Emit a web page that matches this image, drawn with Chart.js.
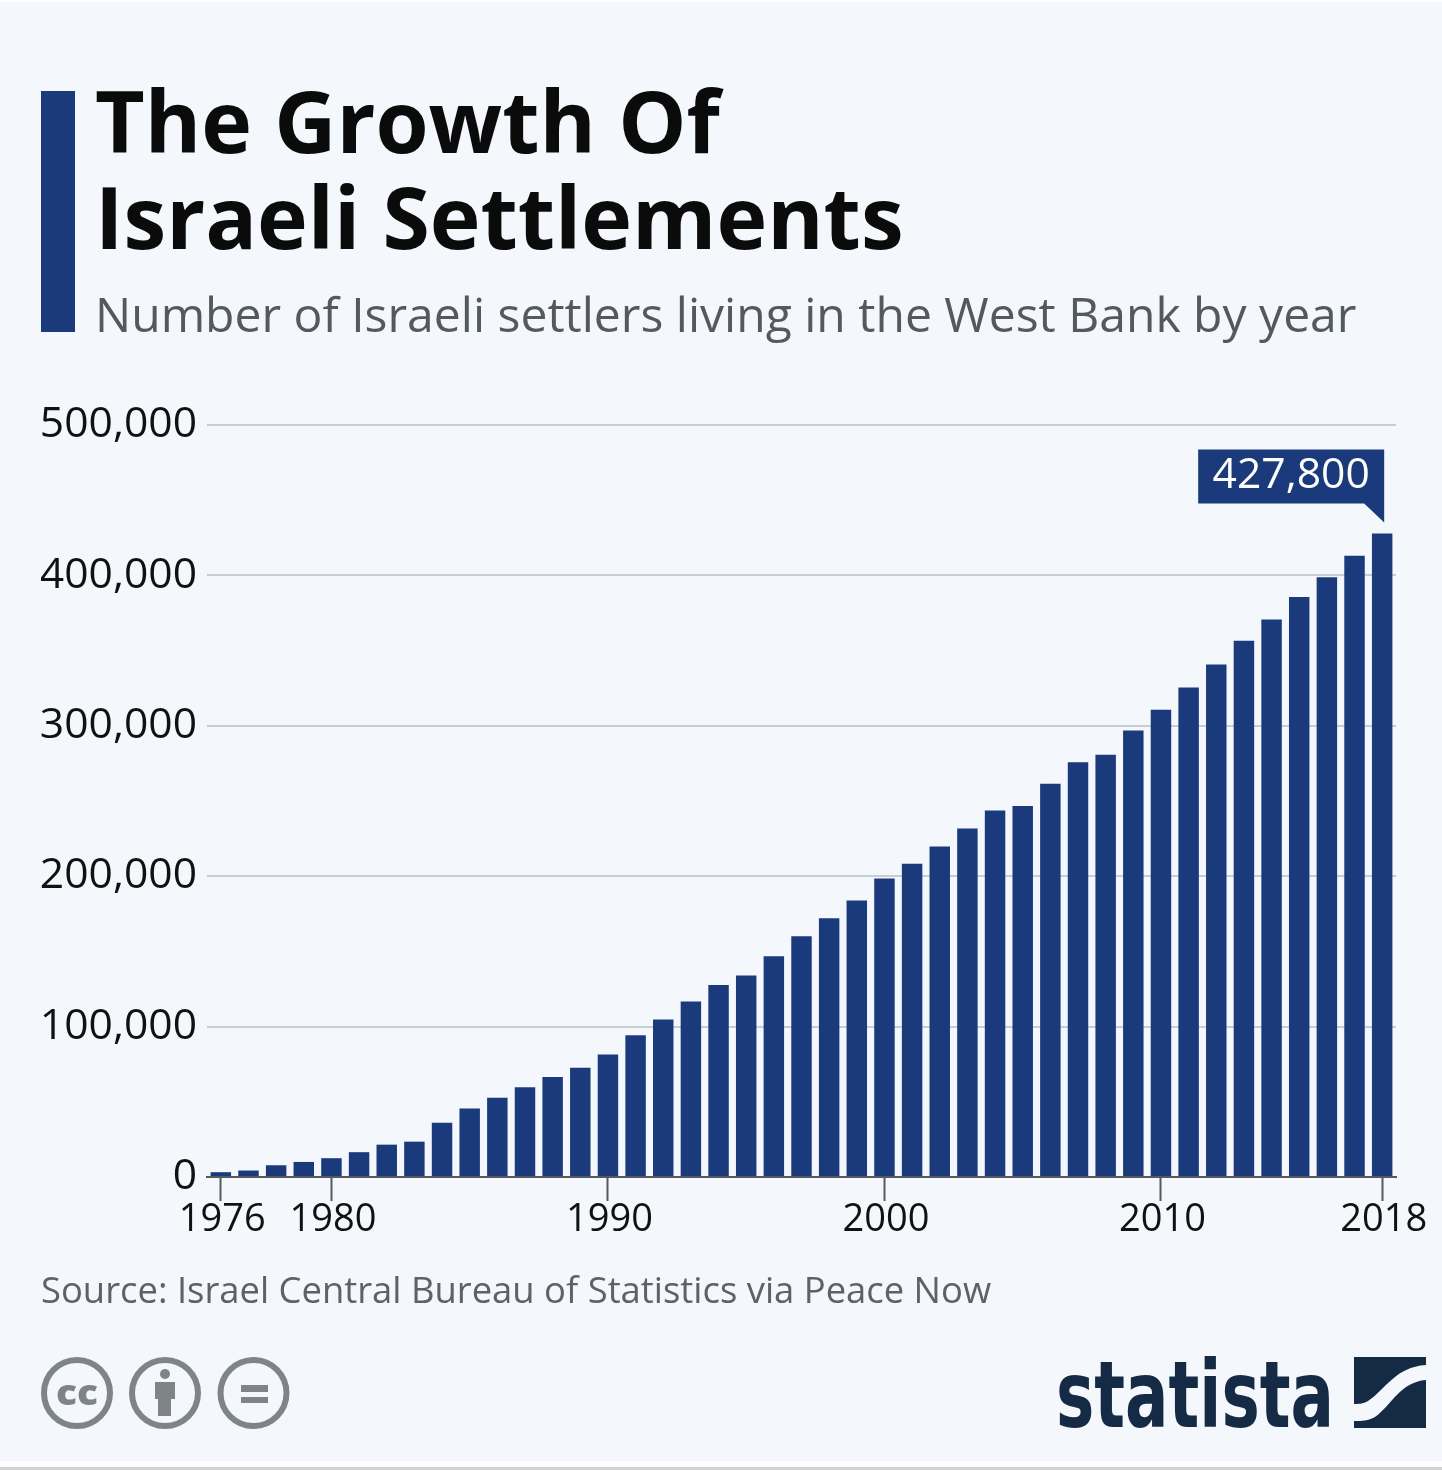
<!DOCTYPE html>
<html>
<head>
<meta charset="utf-8">
<title>The Growth Of Israeli Settlements</title>
<script src="https://cdn.jsdelivr.net/npm/chart.js@4"></script>
<style>
  html, body { margin: 0; padding: 0; }
  body { width: 1442px; height: 1470px; position: relative; overflow: hidden; background: #f4f7fb; font-family: "Open Sans", sans-serif; }
  canvas { position: absolute; left: 0; top: 0; }
  .accent { position: absolute; left: 41px; top: 91px; width: 34px; height: 241px; background: #1b3a7c; }
  h1 { position: absolute; left: 95px; top: 72px; margin: 0; font-size: 85.9px; line-height: 96px; font-weight: 700; color: #0b0b0b; white-space: nowrap; }
  .subtitle { position: absolute; left: 95px; top: 279px; font-size: 48.05px; line-height: 70px; color: #54595d; white-space: nowrap; }
  .source { position: absolute; left: 41px; top: 1264px; font-size: 36.4px; line-height: 50px; color: #5c6266; white-space: nowrap; }
  .topline { position: absolute; left: 0; top: 0; width: 1442px; height: 2px; background: #fff; }
  .bottomline { position: absolute; left: 0; top: 1461px; width: 1442px; height: 6px; background: #fff; }
  .bottomline2 { position: absolute; left: 0; top: 1467px; width: 1442px; height: 3px; background: #d2d2d2; }
  svg { position: absolute; left: 0; top: 0; }
</style>
</head>
<body>
<div class="topline"></div>
<div class="accent"></div>
<h1>The Growth Of<br>Israeli Settlements</h1>
<div class="subtitle">Number of Israeli settlers living in the West Bank by year</div>
<canvas id="chart" width="1442" height="1470"></canvas>
<div class="source">Source: Israel Central Bureau of Statistics via Peace Now</div>
<svg width="1442" height="1470">
  <g fill="none" stroke="#7f8587" stroke-width="6">
    <circle cx="77" cy="1393" r="33"/>
    <circle cx="165" cy="1393" r="33"/>
    <circle cx="253.5" cy="1393" r="33"/>
  </g>
  <text x="77" y="1405" text-anchor="middle" font-family="Open Sans" font-weight="800" font-size="36" fill="#7f8587" textLength="42" lengthAdjust="spacingAndGlyphs">cc</text>
  <g fill="#7f8587">
    <circle cx="165" cy="1374" r="5"/>
    <rect x="155" y="1382" width="20" height="17"/>
    <rect x="158" y="1399" width="13" height="17"/>
    <rect x="241" y="1385" width="27" height="7"/>
    <rect x="241" y="1397" width="27" height="6"/>
  </g>
  <text x="1056" y="1427" font-family="DejaVu Sans" font-weight="700" font-size="93" fill="#142a45" textLength="278" lengthAdjust="spacingAndGlyphs">statista</text>
  <path fill="#142a45" d="M1354 1357 L1426 1357 L1426 1365 C1395 1367 1385 1390 1368 1401 C1363 1404 1358 1404 1354 1404 Z"/>
  <path fill="#142a45" d="M1426 1380 L1426 1428 L1354 1428 L1354 1421 C1362 1421 1368 1421 1375 1417 C1392 1405 1400 1382 1426 1380 Z"/>
</svg>
<div class="bottomline"></div>
<div class="bottomline2"></div>

<script>
  const years = [1976, 1977, 1978, 1979, 1980, 1981, 1982, 1983, 1984, 1985, 1986,
    1987, 1988, 1989, 1990, 1991, 1992, 1993, 1994, 1995, 1996, 1997,
    1998, 1999, 2000, 2001, 2002, 2003, 2004, 2005, 2006, 2007, 2008,
    2009, 2010, 2011, 2012, 2013, 2014, 2015, 2016, 2017, 2018];

  const settlers = [3200, 4300, 7800, 10000, 12500, 16500, 21500, 23500, 36000, 45500, 52700,
    59700, 66500, 72700, 81500, 94200, 104700, 116700, 127700, 134000, 146700, 160000,
    172000, 183800, 198500, 208300, 219700, 231700, 243700, 246700, 261500, 275700, 280800,
    296800, 310700, 325500, 340700, 356500, 370700, 385700, 398800, 413000, 427800];

  const yearTicks = [1976, 1980, 1990, 2000, 2010, 2018];
  const valueTicks = [0, 100000, 200000, 300000, 400000, 500000];

  const barColor = '#1b3a7c';
  const fmt = v => v.toLocaleString('en-US');

  // the dark label hanging over the last bar
  const calloutPlugin = {
    id: 'callout',
    afterDatasetsDraw(chart) {
      let ctx = chart.ctx;
      let bars = chart.getDatasetMeta(0).data;
      let last = bars[bars.length - 1];
      let right = last.x + 2;
      let tip = last.y - 11;

      ctx.save();
      ctx.fillStyle = barColor;
      ctx.beginPath();
      ctx.moveTo(right - 186, tip - 73);
      ctx.lineTo(right, tip - 73);
      ctx.lineTo(right, tip);
      ctx.lineTo(right - 20, tip - 19);
      ctx.lineTo(right - 186, tip - 19);
      ctx.closePath();
      ctx.fill();

      ctx.fillStyle = '#fff';
      ctx.font = '42.6px "Open Sans"';
      ctx.textAlign = 'center';
      ctx.textBaseline = 'middle';
      ctx.fillText(fmt(settlers[settlers.length - 1]), right - 93, tip - 47);
      ctx.restore();
    }
  };

  new Chart(document.getElementById('chart'), {
    type: 'bar',
    data: {
      labels: years,
      datasets: [{
        data: settlers,
        backgroundColor: barColor,
        barPercentage: 0.74,
        categoryPercentage: 1
      }]
    },
    options: {
      responsive: false,
      animation: false,
      layout: { padding: { left: 41, right: 46, top: 425, bottom: 233 } },
      plugins: { legend: { display: false }, tooltip: { enabled: false } },
      scales: {
        x: {
          afterBuildTicks: axis => {
            axis.ticks = axis.ticks.filter(t => yearTicks.includes(years[t.value]));
          },
          afterFit: axis => { axis.height = 60; },
          border: { color: '#55595c', width: 2 },
          grid: { offset: false, drawOnChartArea: false, tickLength: 24, tickColor: '#55595c', tickWidth: 2 },
          ticks: {
            autoSkip: false,
            maxRotation: 0,
            padding: -4,
            labelOffset: 1.5,
            color: '#111',
            font: { family: 'Open Sans', size: 38 },
            callback: (v, i, all) => years[all[i].value]
          }
        },
        y: {
          min: 0,
          max: 500000,
          afterBuildTicks: axis => { axis.ticks = valueTicks.map(v => ({ value: v })); },
          afterFit: axis => { axis.width = 166; },
          border: { display: false },
          grid: { color: '#c8cdd2', lineWidth: 2, drawTicks: false },
          ticks: {
            padding: 10,
            color: '#111',
            font: { family: 'Open Sans', size: 42.6 },
            callback: v => fmt(v)
          }
        }
      }
    },
    plugins: [calloutPlugin]
  });
</script>
</body>
</html>
